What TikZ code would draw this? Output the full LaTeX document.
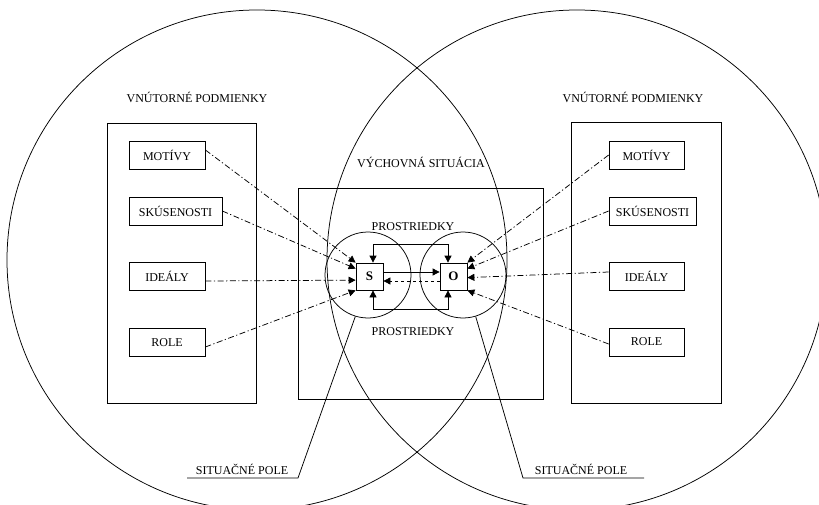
\documentclass[tikz,border=0pt]{standalone}
\usepackage{fontspec}
\setmainfont{Liberation Serif}
\usetikzlibrary{arrows.meta,calc}
\begin{document}
\begin{tikzpicture}[x=1pt,y=-1pt,line width=0.75pt,
  frame/.style={draw,rectangle,inner sep=0pt},
  itembox/.style={draw,rectangle,inner sep=0pt,minimum height=28pt,font=\fontsize{12}{14}\selectfont},
  lbl/.style={inner sep=0pt,font=\fontsize{12}{14}\selectfont},
  sobox/.style={draw,rectangle,inner sep=0pt,minimum width=27pt,minimum height=27pt,font=\bfseries\fontsize{13}{15}\selectfont},
  ring/.style={draw,circle,inner sep=0pt,minimum size=86pt},
  ddot/.style={dash pattern=on 6pt off 2.5pt on 1.2pt off 2.5pt},
  arr/.style={-{Triangle[length=7pt,width=7pt]}},
  arrboth/.style={{Triangle[length=7pt,width=7pt]}-{Triangle[length=7pt,width=7pt]}}]
\useasboundingbox (0,0) rectangle (819,505);
\clip (0,0) rectangle (819,505);
% big circles
\node[draw,circle,inner sep=0pt,minimum size=500pt] (BL) at (257,260) {};
\node[draw,circle,inner sep=0pt,minimum size=500pt] (BR) at (577,260) {};
% frames
\node[frame,minimum width=149pt,minimum height=280pt] (LR) at (181.5,263) {};
\node[frame,minimum width=150pt,minimum height=281pt] (RR) at (646,262.5) {};
\node[frame,minimum width=245pt,minimum height=211pt] (CR) at (420.5,293.5) {};
% labels
\node[lbl] (tL) at (197,97) {VNÚTORNÉ PODMIENKY};
\node[lbl] (tR) at (633,97) {VNÚTORNÉ PODMIENKY};
\node[lbl] (tC) at (421,162) {VÝCHOVNÁ SITUÁCIA};
\node[lbl] (pT) at (413,227) {PROSTRIEDKY};
\node[lbl] (pB) at (413,332) {PROSTRIEDKY};
% left items
\node[itembox,minimum width=76pt] (lM) at (167,155) {MOTÍVY};
\node[itembox,minimum width=93pt] (lS) at (175.5,211) {SKÚSENOSTI};
\node[itembox,minimum width=76pt] (lI) at (167,276.5) {IDEÁLY};
\node[itembox,minimum width=76pt] (lR) at (167,342.5) {ROLE};
% right items
\node[itembox,minimum width=75pt] (rM) at (646.5,155) {MOTÍVY};
\node[itembox,minimum width=87pt] (rS) at (652.5,211) {SKÚSENOSTI};
\node[itembox,minimum width=75pt] (rI) at (646.5,276.5) {IDEÁLY};
\node[itembox,minimum width=75pt] (rR) at (646.5,342) {ROLE};
% small circles
\node[ring] (cL) at (368,275) {};
\node[ring] (cR) at (463,275) {};
% S and O
\node[sobox,fill=white] (S) at (369.5,276.5) {S};
\node[sobox,fill=white] (O) at (453.5,276.5) {O};
% loops
\draw[arrboth] ([xshift=3.5pt]S.north) -- ++(0,-18) -| ([xshift=-5.5pt]O.north);
\draw[arrboth] ([xshift=3.5pt]S.south) -- ++(0,19) -| ([xshift=-5.5pt]O.south);
% middle arrows
\draw[arr] ([yshift=4.5pt]S.east) -- ([yshift=4.5pt]O.west);
\draw[arr,dashed] ([yshift=-4.5pt]O.west) -- ([yshift=-4.5pt]S.east);
% left connectors
\draw[arr,ddot] ([yshift=5pt]lM.east) -- (S.north west);
\draw[arr,ddot] (lS.east) -- ([yshift=-6pt]S.north west);
\draw[arr,ddot] ([yshift=-4.5pt]lI.east) -- ([yshift=-17.5pt]S.north west);
\draw[arr,ddot] ([yshift=-4.5pt]lR.east) -- (S.south west);
% right connectors
\draw[arr,ddot] (rM.west) -- (O.north east);
\draw[arr,ddot] (rS.west) -- ([yshift=-6pt]O.north east);
\draw[arr,ddot] ([yshift=4.5pt]rI.west) -- ([yshift=-15pt]O.north east);
\draw[arr,ddot] ([yshift=-2pt]rR.west) -- (O.south east);
% situacne pole
\coordinate (u1) at (187,478);
\coordinate (u2) at (298,478);
\coordinate (u3) at (523,478);
\coordinate (u4) at (644,478);
\node[lbl,anchor=base] (sp1) at (242,474) {SITUAČNÉ POLE};
\node[lbl,anchor=base] (sp2) at (581,474) {SITUAČNÉ POLE};
\draw (u1) -- (u2) -- (cL.253);
\draw (u4) -- (u3) -- (cR.287);
\end{tikzpicture}
\end{document}
